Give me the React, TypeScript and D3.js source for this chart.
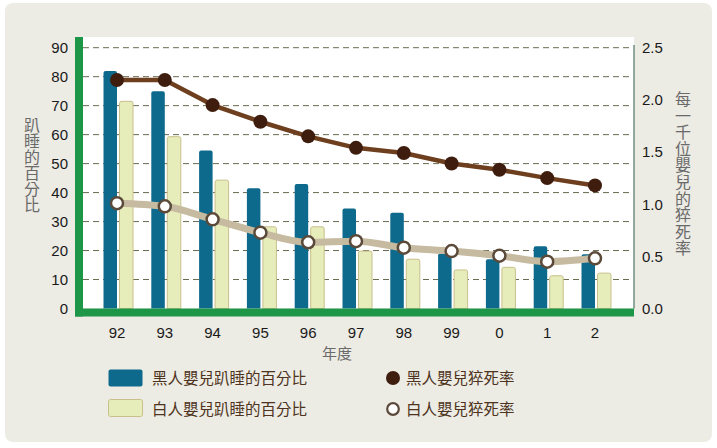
import React from "react";
import { select, scaleLinear, scalePoint, line, curveMonotoneX, curveLinear } from "d3";

const years = ["92", "93", "94", "95", "96", "97", "98", "99", "0", "1", "2"];
const blackProne = [82, 75, 54.5, 41.5, 43, 34.5, 33, 19, 17, 21.5, 18.7];
const whiteProne = [71.5, 59.3, 44.3, 28.2, 28.2, 19.8, 17, 13.3, 14.2, 11.3, 12.2];
const blackSids = [2.19, 2.19, 1.95, 1.79, 1.65, 1.54, 1.49, 1.39, 1.33, 1.25, 1.18];
const whiteSids = [1.01, 0.98, 0.855, 0.727, 0.635, 0.645, 0.583, 0.551, 0.506, 0.449, 0.481];
const leftTicks = [0, 10, 20, 30, 40, 50, 60, 70, 80, 90];
const rightTicks = [0, 0.5, 1, 1.5, 2, 2.5];

const leftTitle = "趴睡的百分比";
const rightTitle = "每一千位嬰兒的猝死率";
const xTitle = "年度";
const legendItems = ["黑人嬰兒趴睡的百分比", "白人嬰兒趴睡的百分比", "黑人嬰兒猝死率", "白人嬰兒猝死率"];

const W = 717;
const H = 448;
const numFont = "'Liberation Sans', Arial, sans-serif";
const cjkFont = "'Noto Sans CJK TC', 'Noto Sans CJK SC', sans-serif";

const BLUE = "#0d6a8c";
const PALE = "#e6edbb";
const PALE_EDGE = "#c8bf8c";
const GREEN = "#1e9648";
const BROWN_LINE = "#6e3f1f";
const BROWN_DOT = "#3e1d0e";
const TAN_LINE = "#c6baa0";

// bar with slightly rounded top corners
const barPath = (x: number, y: number, w: number, h: number, r: number) =>
  `M${x},${y + h}V${y + r}Q${x},${y} ${x + r},${y}H${x + w - r}Q${x + w},${y} ${x + w},${y + r}V${y + h}Z`;

export default function App() {
  const svgRef = React.useRef<SVGSVGElement>(null);

  React.useEffect(() => {
    const svg = select(svgRef.current);
    svg.selectAll("*").remove();

    const plot = { left: 83, right: 634, top: 37, bottom: 308.5 };

    const x = scalePoint<string>().domain(years).range([117, 595]);
    const y = scaleLinear().domain([0, 90]).range([plot.bottom, 47.7]);
    const yR = scaleLinear().domain([0, 2.5]).range([plot.bottom, 47.7]);

    // panel background
    svg
      .append("rect")
      .attr("x", 5)
      .attr("y", 3)
      .attr("width", 707)
      .attr("height", 439)
      .attr("rx", 8)
      .attr("fill", "#ecebe4");

    svg
      .append("rect")
      .attr("x", plot.left)
      .attr("y", plot.top)
      .attr("width", plot.right - plot.left)
      .attr("height", plot.bottom - plot.top)
      .attr("fill", "#ffffff");

    // dashed grid
    svg
      .append("g")
      .selectAll("line")
      .data(leftTicks.filter((d) => d > 0))
      .join("line")
      .attr("x1", plot.left)
      .attr("x2", plot.right - 2)
      .attr("y1", (d) => y(d))
      .attr("y2", (d) => y(d))
      .attr("stroke", "#6a6a50")
      .attr("stroke-width", 1)
      .attr("stroke-dasharray", "6,4");

    // bars
    const bw = 13.5;
    svg
      .append("g")
      .selectAll("path")
      .data(years)
      .join("path")
      .attr("d", (d, i) => {
        const top = y(blackProne[i]);
        return barPath(x(d)! - bw, top, bw, plot.bottom - top, 2);
      })
      .attr("fill", BLUE);

    svg
      .append("g")
      .selectAll("path")
      .data(years)
      .join("path")
      .attr("d", (d, i) => {
        const top = y(whiteProne[i]);
        return barPath(x(d)! + 2.5, top, bw, plot.bottom - top, 2);
      })
      .attr("fill", PALE)
      .attr("stroke", PALE_EDGE)
      .attr("stroke-width", 1);

    // right axis line
    svg
      .append("line")
      .attr("x1", plot.right)
      .attr("x2", plot.right)
      .attr("y1", plot.top + 8)
      .attr("y2", plot.bottom)
      .attr("stroke", "#6f8f80")
      .attr("stroke-width", 1.5);

    // green left and bottom axis bars
    svg
      .append("rect")
      .attr("x", 75)
      .attr("y", plot.top)
      .attr("width", 8)
      .attr("height", plot.bottom + 8 - plot.top)
      .attr("fill", GREEN);
    svg
      .append("rect")
      .attr("x", 75)
      .attr("y", plot.bottom)
      .attr("width", plot.right - 75)
      .attr("height", 8)
      .attr("fill", GREEN);

    // white infant rate line
    const whitePts = years.map((d, i) => [x(d)!, yR(whiteSids[i])] as [number, number]);
    svg
      .append("path")
      .attr("d", line().curve(curveMonotoneX)(whitePts))
      .attr("fill", "none")
      .attr("stroke", TAN_LINE)
      .attr("stroke-width", 7)
      .attr("stroke-linejoin", "round");

    // black infant rate line
    const blackPts = years.map((d, i) => [x(d)!, yR(blackSids[i])] as [number, number]);
    svg
      .append("path")
      .attr("d", line().curve(curveLinear)(blackPts))
      .attr("fill", "none")
      .attr("stroke", BROWN_LINE)
      .attr("stroke-width", 4.5)
      .attr("stroke-linejoin", "round");

    svg
      .append("g")
      .selectAll("circle")
      .data(whitePts)
      .join("circle")
      .attr("cx", (d) => d[0])
      .attr("cy", (d) => d[1])
      .attr("r", 6)
      .attr("fill", "#ffffff")
      .attr("stroke", "#5b4a3a")
      .attr("stroke-width", 2.5);

    svg
      .append("g")
      .selectAll("circle")
      .data(blackPts)
      .join("circle")
      .attr("cx", (d) => d[0])
      .attr("cy", (d) => d[1])
      .attr("r", 7)
      .attr("fill", BROWN_DOT);

    // tick labels
    svg
      .append("g")
      .selectAll("text")
      .data(leftTicks)
      .join("text")
      .attr("x", 68)
      .attr("y", (d) => y(d))
      .attr("dy", "0.36em")
      .attr("text-anchor", "end")
      .attr("font-family", numFont)
      .attr("font-size", 15)
      .attr("fill", "#1a1a1a")
      .text((d) => d);

    svg
      .append("g")
      .selectAll("text")
      .data(rightTicks)
      .join("text")
      .attr("x", 642)
      .attr("y", (d) => yR(d))
      .attr("dy", "0.36em")
      .attr("font-family", numFont)
      .attr("font-size", 15)
      .attr("fill", "#1a1a1a")
      .text((d) => d.toFixed(1));

    svg
      .append("g")
      .selectAll("text")
      .data(years)
      .join("text")
      .attr("x", (d) => x(d)!)
      .attr("y", 338)
      .attr("text-anchor", "middle")
      .attr("font-family", numFont)
      .attr("font-size", 15)
      .attr("fill", "#1a1a1a")
      .text((d) => d);

    // vertical axis titles
    const vertical = (text: string, cx: number, top: number, spacing: number) =>
      svg
        .append("text")
        .attr("x", cx)
        .attr("y", top)
        .attr("writing-mode", "vertical-rl")
        .attr("letter-spacing", spacing)
        .attr("font-family", cjkFont)
        .attr("font-size", 16)
        .attr("fill", "#6a6a6a")
        .text(text);

    vertical(leftTitle, 32, 117, 0);
    vertical(rightTitle, 683, 91, 0.6);

    svg
      .append("text")
      .attr("x", 337)
      .attr("y", 359)
      .attr("text-anchor", "middle")
      .attr("font-family", cjkFont)
      .attr("font-size", 15)
      .attr("fill", "#6a6a6a")
      .text(xTitle);

    // legend
    const lg = svg.append("g");
    lg.append("rect")
      .attr("x", 108.5)
      .attr("y", 369.5)
      .attr("width", 34)
      .attr("height", 17)
      .attr("rx", 2)
      .attr("fill", BLUE);
    lg.append("rect")
      .attr("x", 108.5)
      .attr("y", 399.5)
      .attr("width", 34)
      .attr("height", 17)
      .attr("rx", 2)
      .attr("fill", PALE)
      .attr("stroke", PALE_EDGE);
    lg.append("circle").attr("cx", 393).attr("cy", 378).attr("r", 7).attr("fill", BROWN_DOT);
    lg.append("circle")
      .attr("cx", 393)
      .attr("cy", 409)
      .attr("r", 5.8)
      .attr("fill", "#ffffff")
      .attr("stroke", "#5b4a3a")
      .attr("stroke-width", 2.2);

    const labelPos = [
      [152, 378],
      [152, 409],
      [406, 378],
      [406, 409],
    ];
    lg.selectAll("text.leg")
      .data(legendItems)
      .join("text")
      .attr("class", "leg")
      .attr("x", (_, i) => labelPos[i][0])
      .attr("y", (_, i) => labelPos[i][1])
      .attr("dy", "0.36em")
      .attr("font-family", cjkFont)
      .attr("font-size", 15.5)
      .attr("fill", "#4e3420")
      .text((d) => d);

    return () => {
      svg.selectAll("*").remove();
    };
  }, []);

  return (
    <svg
      ref={svgRef}
      width={W}
      height={H}
      style={{ position: "absolute", left: 0, top: 0, background: "#ffffff" }}
    />
  );
}
